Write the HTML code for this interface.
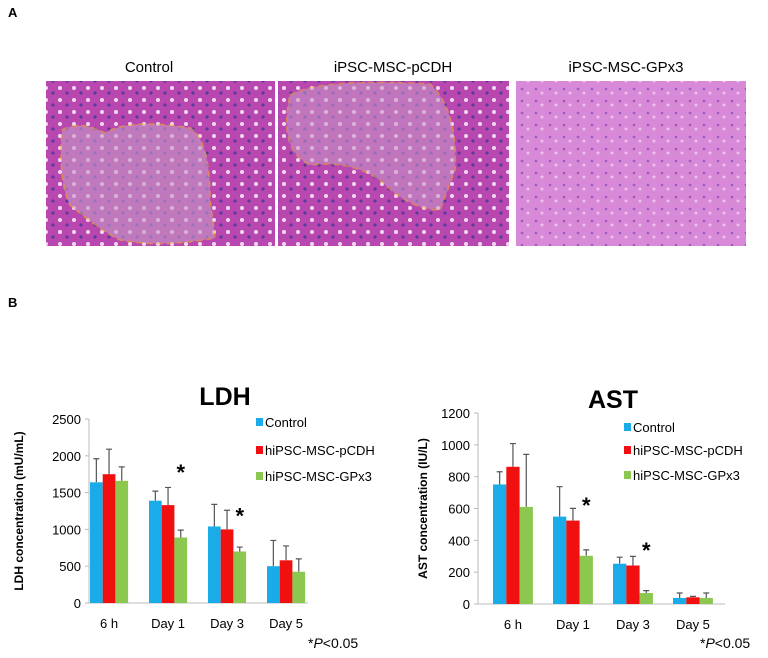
<!DOCTYPE html>
<html><head><meta charset="utf-8">
<style>
body{margin:0;background:#fff;width:768px;height:658px;overflow:hidden;font-family:"Liberation Sans",Arial,sans-serif}
svg{display:block}
text{font-family:"Liberation Sans",Arial,sans-serif}
</style></head>
<body>
<svg id="fig" width="768" height="658" viewBox="0 0 768 658">
<defs>
<pattern id="cells1" width="14" height="12" patternUnits="userSpaceOnUse">
<rect width="14" height="12" fill="#b848b0"/>
<circle cx="4" cy="4" r="2" fill="#f0d8f0"/><circle cx="11" cy="9" r="1.6" fill="#5a3a9a"/>
</pattern>
<pattern id="cells3" width="14" height="12" patternUnits="userSpaceOnUse">
<rect width="14" height="12" fill="#d88ad8"/>
<circle cx="4" cy="5" r="1.3" fill="#9a5ac0"/><circle cx="10" cy="9" r="1.5" fill="#eec0ee"/>
</pattern>
</defs>
<text x="8" y="17" font-size="13" font-weight="bold">A</text>
<text x="8" y="307" font-size="13" font-weight="bold">B</text>
<text x="149" y="72" font-size="15" text-anchor="middle">Control</text>
<text x="393" y="72" font-size="15" text-anchor="middle">iPSC-MSC-pCDH</text>
<text x="626" y="72" font-size="15" text-anchor="middle">iPSC-MSC-GPx3</text>
<g>
<rect x="46" y="81" width="229" height="165" fill="url(#cells1)"/>
<path d="M62,130 Q80,120 105,133 Q130,118 190,128 Q210,140 210,200 L215,238 Q160,248 120,240 Q100,230 70,205 Q58,180 62,130Z" fill="#c79ac8" opacity="0.6" stroke="#f5b520" stroke-width="1.6" stroke-dasharray="6,4"/>
</g>
<g>
<rect x="278" y="81" width="231" height="165" fill="url(#cells1)"/>
<path d="M290,95 Q320,78 430,84 Q458,110 455,170 L440,210 Q410,210 380,180 Q350,160 310,165 Q278,150 290,95Z" fill="#c79ac8" opacity="0.55" stroke="#f5b520" stroke-width="1.6" stroke-dasharray="6,4"/>
</g>
<g>
<rect x="516" y="81" width="230" height="165" fill="url(#cells3)"/>
</g>
<g id="ldh"></g>
<g id="ast"></g>
</svg>
<script>
const categories = ["6 h","Day 1","Day 3","Day 5"];
const seriesNames = ["Control","hiPSC-MSC-pCDH","hiPSC-MSC-GPx3"];
const ldhControl = [1640,1390,1040,500];
const ldhPcdh = [1750,1330,1000,580];
const ldhGpx3 = [1660,890,700,425];
const ldhControlErr = [1960,1520,1340,850];
const ldhPcdhErr = [2090,1570,1260,775];
const ldhGpx3Err = [1850,990,760,600];
const ldhTicks = [0,500,1000,1500,2000,2500];
const ldhStar = [null,1850,1260,null];
const astControl = [751,549,253,38];
const astPcdh = [862,524,242,42];
const astGpx3 = [610,303,69,38];
const astControlErr = [831,737,294,69];
const astPcdhErr = [1008,601,299,48];
const astGpx3Err = [940,340,84,69];
const astTicks = [0,200,400,600,800,1000,1200];
const astStar = [null,654,371,null];
const colors = ["#1aace8","#f01010","#8cc850"];
const NS="http://www.w3.org/2000/svg";
function mk(parent,tag,attrs,txt){const e=document.createElementNS(NS,tag);for(const k in attrs)e.setAttribute(k,attrs[k]);if(txt!==undefined)e.textContent=txt;parent.appendChild(e);return e;}

function drawChart(g,cfg){
  const y=v=>cfg.y0-(v/cfg.max)*(cfg.y0-cfg.yTop);
  const xg=i=>cfg.x0+cfg.firstOff+i*cfg.step;
  const ax=mk(g,"line",{x1:cfg.x0,y1:cfg.yTop,x2:cfg.x0,y2:cfg.y0,stroke:"#bbb"});
  
  
  const bx=mk(g,"line",{x1:cfg.x0,y1:cfg.y0,x2:cfg.xEnd,y2:cfg.y0,stroke:"#bbb"});
  
  
  cfg.ticks.forEach(t=>{
    const l=mk(g,"line",{x1:cfg.x0-4,y1:y(t),x2:cfg.x0,y2:y(t),stroke:"#bbb"});
    
    
    const tx=mk(g,"text",{x:cfg.x0-8,y:y(t)+5,"font-size":13,"text-anchor":"end"},t);
    
    
  });
  categories.forEach((c,i)=>{
    cfg.series.forEach((s,k)=>{
      const bxp=xg(i)+k*cfg.bw;
      const e=cfg.errs[k][i];
      const cx=bxp+cfg.bw/2;
      const el=mk(g,"path",{d:`M${cx},${y(s[i])} V${y(e)} M${cx-3},${y(e)} h6`,stroke:"#555","stroke-width":1.2,fill:"none"});
      
      
      const r=mk(g,"rect",{x:bxp,y:y(s[i]),width:cfg.bw,height:cfg.y0-y(s[i]),fill:colors[k]});
      
      
    });
    const lx=mk(g,"text",{x:xg(i)+cfg.bw*1.5,y:cfg.y0+25,"font-size":13,"text-anchor":"middle"},c);
    
    
    if(cfg.star[i]!==null){
      const gx=xg(i)+cfg.bw*2.5;
      const st=mk(g,"text",{x:gx,y:y(cfg.star[i])+13,"font-size":22,"font-weight":"bold","text-anchor":"middle"},"*");
      
      
    }
  });
  const ti=mk(g,"text",{x:cfg.titleX,y:cfg.titleY,"font-size":25,"font-weight":"bold","text-anchor":"middle"},cfg.title);
  
  
  const yt=mk(g,"text",{transform:`translate(${cfg.ytX},${(cfg.y0+cfg.yTop)/2}) rotate(-90)`,"font-size":12,"font-weight":"bold","text-anchor":"middle"},cfg.yTitle);
  
  
  seriesNames.forEach((n,k)=>{
    const ly=cfg.legY[k];
    const sq=mk(g,"rect",{x:cfg.legX,y:ly-4,width:7,height:8,fill:colors[k]});
    
    
    const lt=mk(g,"text",{x:cfg.legX+9,y:ly+5,"font-size":13},n);
    
    
  });
  const p=mk(g,"text",{x:cfg.pX,y:648,"font-size":14},"");
  
  
  p.innerHTML='*<tspan font-style="italic">P</tspan>&lt;0.05';
}
drawChart(document.getElementById("ldh"),{x0:89,xEnd:308,y0:603,yTop:419,max:2500,firstOff:1,step:59,bw:12.7,
 series:[ldhControl,ldhPcdh,ldhGpx3],errs:[ldhControlErr,ldhPcdhErr,ldhGpx3Err],ticks:ldhTicks,star:ldhStar,
 title:"LDH",titleX:225,titleY:405,yTitle:"LDH concentration (mU/mL)",ytX:23,legX:256,legY:[422,450,476],pX:308});
drawChart(document.getElementById("ast"),{x0:478,xEnd:725,y0:604,yTop:413,max:1200,firstOff:15,step:60,bw:13.3,
 series:[astControl,astPcdh,astGpx3],errs:[astControlErr,astPcdhErr,astGpx3Err],ticks:astTicks,star:astStar,
 title:"AST",titleX:613,titleY:408,yTitle:"AST concentration (IU/L)",ytX:427,legX:624,legY:[427,450,475],pX:700});
</script>
</body></html>
